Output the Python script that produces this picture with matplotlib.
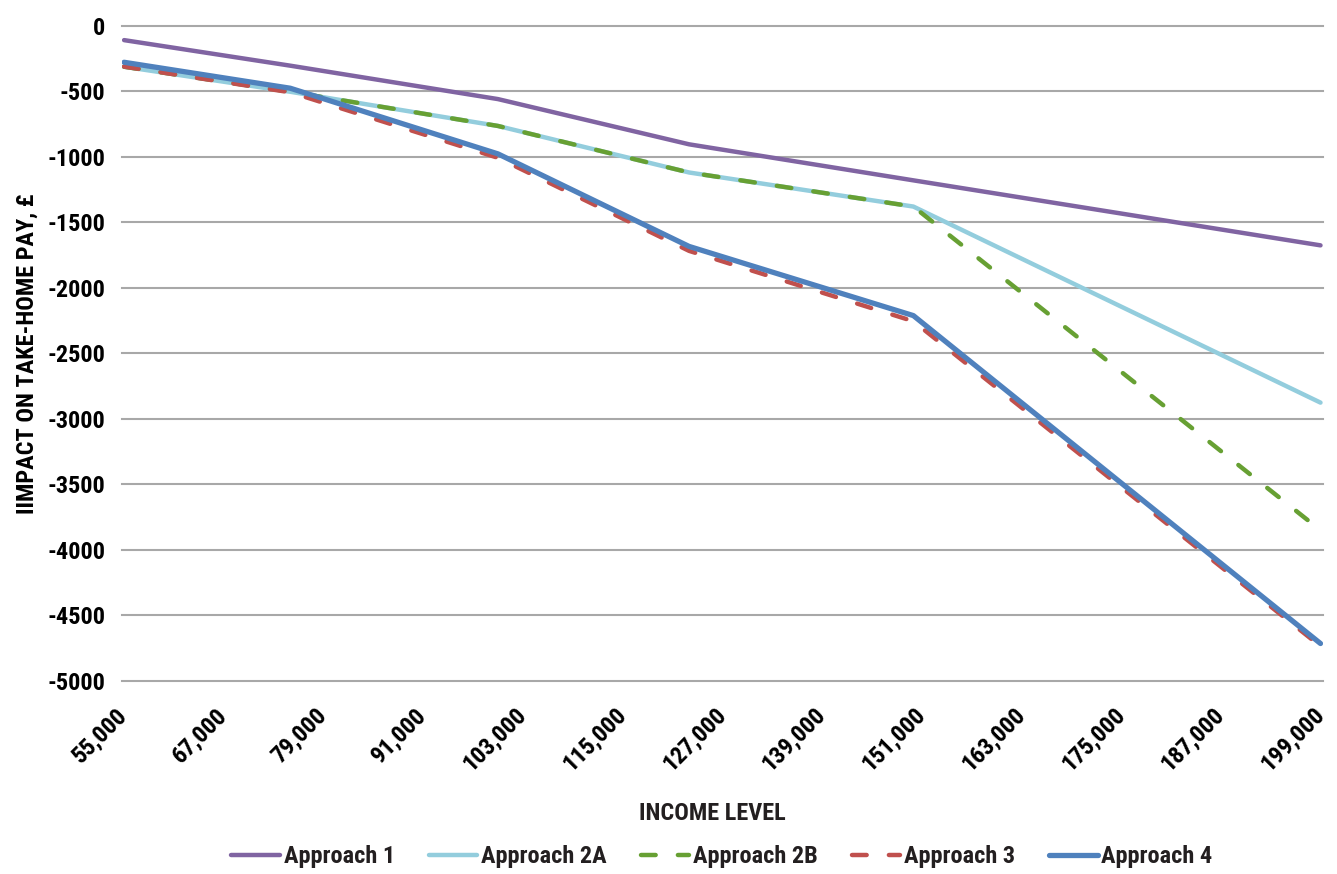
import matplotlib
matplotlib.use("Agg")
import matplotlib.pyplot as plt
from matplotlib import font_manager

# Pick a narrow bold face if one is installed, otherwise a compact sans.
fonts = font_manager.fontManager.ttflist
names = {f.name for f in fonts}
FONT, STRETCH, SIZE = None, "normal", 17.5
for want in ["Liberation Sans Narrow", "Roboto Condensed", "Open Sans Condensed",
             "Noto Sans Condensed", "DejaVu Sans Condensed"]:
    if want in names:
        FONT = want
        break
if FONT is None:
    narrow = [f for f in fonts if str(f.stretch) in ("condensed", "semi-condensed", "extra-condensed")
              or "Condensed" in f.name or "Narrow" in f.name]
    if narrow:
        FONT, STRETCH = narrow[0].name, narrow[0].stretch
    else:
        FONT, SIZE = "Roboto", 14.5
plt.rcParams.update({"font.family": [FONT, "DejaVu Sans"], "font.weight": "bold",
                     "axes.labelweight": "bold", "font.stretch": STRETCH,
                     "text.color": "#231F20"})

income = [55000, 75000, 100000, 123000, 150000, 199000]
approach_1 = [-110, -305, -560, -905, -1180, -1676]
approach_2a = [-313, -504, -765, -1120, -1380, -2876]
approach_2b = [-313, -504, -765, -1120, -1380, -3850]
approach_3 = [-312, -508, -1008, -1718, -2255, -4735]
approach_4 = [-279, -477, -978, -1684, -2212, -4714]

xticks = list(range(55000, 199001, 12000))
yticks = list(range(-5000, 1, 500))

series = [
    ("Approach 1", approach_1, "#8064A2", "-", 3.2),
    ("Approach 2A", approach_2a, "#93CDDD", "-", 3.2),
    ("Approach 2B", approach_2b, "#67A033", "--", 3.2),
    ("Approach 3", approach_3, "#C0504D", "--", 3.2),
    ("Approach 4", approach_4, "#4F81BD", "-", 3.8),
]

fig = plt.figure(figsize=(13.37, 8.74), dpi=100)
ax = fig.add_axes([122/1337, 1-681/874, (1323-122)/1337, (681-25.7)/874])

for name, vals, col, ls, lw in series:
    kw = dict(color=col, lw=lw, label=name, solid_capstyle="round", solid_joinstyle="round")
    if ls == "--":
        kw.update(linestyle="--", dashes=(3.3, 5.0), dash_capstyle="round")
    ax.plot(income, vals, **kw)

ax.set_xlim(54750, 199300)
ax.set_ylim(-5000, 0)
for s in ax.spines.values():
    s.set_visible(False)

ax.set_yticks(yticks, [str(v) for v in yticks])
ax.set_xticks(xticks, [f"{v:,}" for v in xticks], rotation=45, ha="right",
              va="center", rotation_mode="anchor")
ax.tick_params(axis="both", length=0, labelsize=SIZE)
ax.tick_params(axis="y", pad=12)
ax.tick_params(axis="x", pad=22)
ax.yaxis.grid(True, color="#A8A8A8", lw=1.5)
for gl in ax.get_ygridlines():
    gl.set_clip_on(False)
ax.set_axisbelow(True)

ax.set_ylabel("IIMPACT ON TAKE-HOME PAY, £", fontsize=SIZE, fontweight="bold")
ax.yaxis.set_label_coords((39-122)/1201, 0.5)
fig.text(712/1337, 1-813/874, "INCOME LEVEL", ha="center", va="center", fontsize=SIZE)

fig.legend(loc="center", bbox_to_anchor=(722/1337, 1-857/874), ncol=5, frameon=False,
           fontsize=SIZE, handlelength=2.0, handletextpad=0.15, columnspacing=1.4)

fig.savefig("out.png", dpi=100)
